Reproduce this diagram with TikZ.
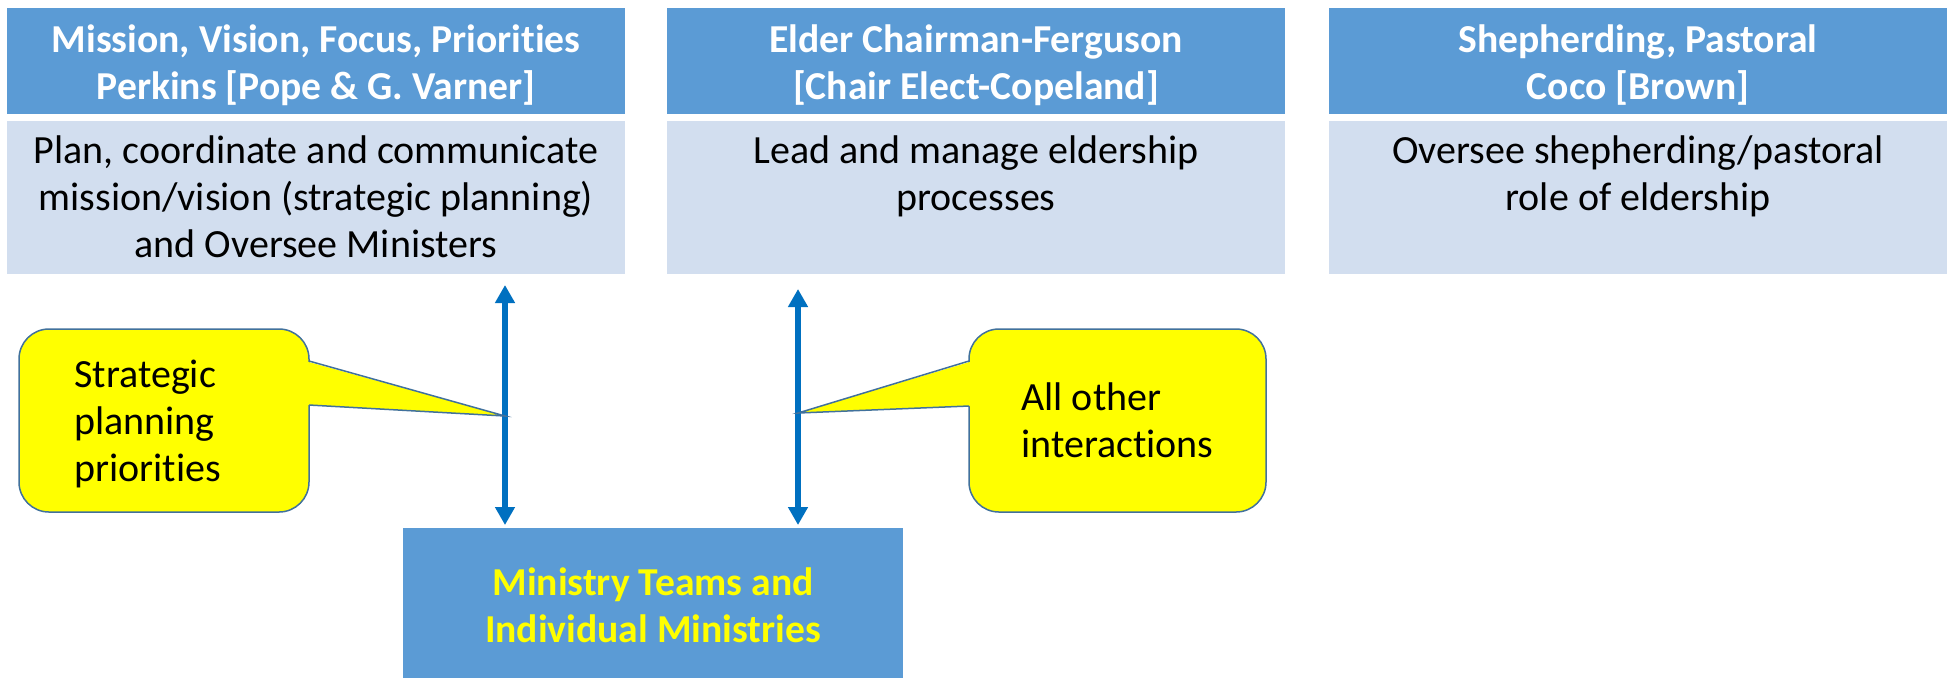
\documentclass[tikz,border=0pt]{standalone}
\usepackage{fontspec}
\setmainfont{Carlito}[Ligatures=NoCommon]
\usetikzlibrary{arrows.meta}
\definecolor{hdr}{HTML}{5B9BD5}
\definecolor{bdy}{HTML}{D2DEEF}
\definecolor{arr}{HTML}{0070C0}
\definecolor{cbord}{HTML}{41719C}
\definecolor{cyel}{HTML}{FFFF00}
\begin{document}
\begin{tikzpicture}[x=0.5pt,y=0.5pt,
  hdrbox/.style={fill=hdr,draw=none,minimum width=309pt,minimum height=53pt,inner sep=0pt,outer sep=0pt},
  bdybox/.style={fill=bdy,draw=none,minimum width=309pt,minimum height=76.5pt,inner sep=0pt,outer sep=0pt},
  hdrtxt/.style={inner sep=0pt,align=center,text=white,font=\fontsize{19.8}{23.4}\selectfont\bfseries},
  bdytxt/.style={inner sep=0pt,align=center,text=black,font=\fontsize{20}{23.5}\selectfont},
  calltxt/.style={inner sep=0pt,align=left,text=black,font=\fontsize{20}{23.5}\selectfont},
  callbox/.style={fill=cyel,draw=cbord,line width=0.75pt,rounded corners=15pt,inner sep=0pt,outer sep=0pt},
  pointer/.style={draw=cbord,line width=0.75pt,line join=miter},
  biarrow/.style={draw=arr,line width=2.6pt,{Triangle[length=9pt,width=9.5pt]}-{Triangle[length=9pt,width=9.5pt]}}
]
\useasboundingbox[fill=white] (0,0) rectangle (1952,-677);

% top columns
\node[hdrbox] (h1) at (316,-61) {};
\node[bdybox] (b1) at (316,-197.5) {};
\node[hdrbox] (h2) at (976,-61) {};
\node[bdybox] (b2) at (976,-197.5) {};
\node[hdrbox] (h3) at (1638,-61) {};
\node[bdybox] (b3) at (1638,-197.5) {};

\node[hdrtxt,anchor=north] (h1t) at (316,-20) {\rule{0pt}{16pt}Mission, Vision, Focus, Priorities\\Perkins [Pope \& G. Varner]};
\node[hdrtxt,anchor=north] (h2t) at (976,-20) {\rule{0pt}{16pt}Elder Chairman-Ferguson\\{[Chair Elect-Copeland]}};
\node[hdrtxt,anchor=north] (h3t) at (1638,-20) {\rule{0pt}{16pt}Shepherding, Pastoral\\Coco [Brown]};

\node[bdytxt,anchor=north] (b1t) at (316,-131) {\rule{0pt}{16pt}Plan, coordinate and communicate\\mission/vision (strategic planning)\\and Oversee Ministers};
\node[bdytxt,anchor=north] (b2t) at (976,-131) {\rule{0pt}{16pt}Lead and manage eldership\\processes};
\node[bdytxt,anchor=north] (b3t) at (1638,-131) {\rule{0pt}{16pt}Oversee shepherding/pastoral\\role of eldership};

% bottom box
\node[fill=hdr,draw=none,minimum width=250pt,minimum height=75pt,inner sep=0pt,outer sep=0pt] (mt) at (653,-603) {};
\node[hdrtxt,text=cyel,anchor=north] (mtt) at (653,-563) {\rule{0pt}{16pt}Ministry Teams and\\Individual Ministries};

% arrows
\coordinate (a1t) at (505,-285);
\coordinate (a1b) at (505,-525);
\coordinate (a2t) at (798,-289);
\coordinate (a2b) at (798,-525);
\draw[biarrow] (a1t) -- (a1b);
\draw[biarrow] (a2t) -- (a2b);

% callout 1
\coordinate (p1) at (505,-416);
\node[callbox,minimum width=145pt,minimum height=91.5pt] (c1) at (164,-420.5) {};
\fill[cyel] ([xshift=-2pt,yshift=29.75pt]c1.east) -- (p1) -- ([xshift=-2pt,yshift=7.75pt]c1.east) -- cycle;
\draw[pointer] ([yshift=29.75pt]c1.east) -- (p1) -- ([yshift=7.75pt]c1.east);
\node[calltxt,anchor=north west] (c1t) at (74,-355) {\rule{0pt}{16pt}Strategic\\planning\\priorities};

% callout 2
\coordinate (p2) at (798,-413);
\node[callbox,minimum width=148.5pt,minimum height=91.5pt] (c2) at (1117.5,-420.5) {};
\fill[cyel] ([xshift=2pt,yshift=29.75pt]c2.west) -- (p2) -- ([xshift=2pt,yshift=7.25pt]c2.west) -- cycle;
\draw[pointer] ([yshift=29.75pt]c2.west) -- (p2) -- ([yshift=7.25pt]c2.west);
\node[calltxt,anchor=north west] (c2t) at (1021,-378) {\rule{0pt}{16pt}All other\\interactions};
\end{tikzpicture}
\end{document}
